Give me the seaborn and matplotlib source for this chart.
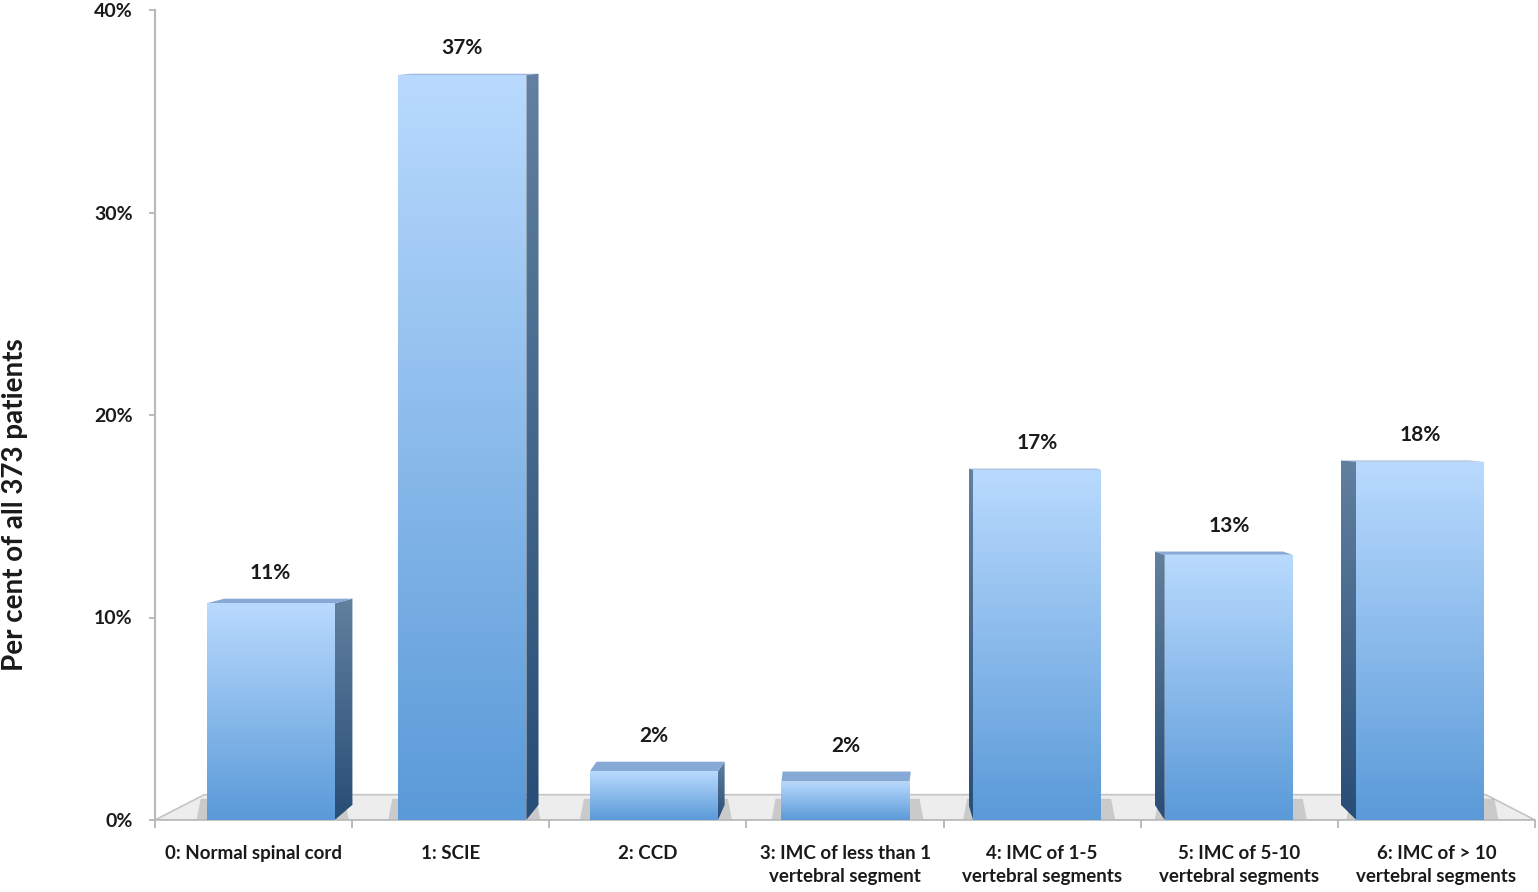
import numpy as np
import pandas as pd
import matplotlib
matplotlib.use("Agg")
import matplotlib.pyplot as plt
from matplotlib.patches import Polygon
from matplotlib.colors import LinearSegmentedColormap
import seaborn as sns

# ---- data ----
categories = [
    "0: Normal spinal cord",
    "1: SCIE",
    "2: CCD",
    "3: IMC of less than 1\nvertebral segment",
    "4: IMC of 1-5\nvertebral segments",
    "5: IMC of 5-10\nvertebral segments",
    "6: IMC of > 10\nvertebral segments",
]
values = [10.7, 36.8, 2.4, 1.9, 17.3, 13.1, 17.7]
value_labels = ["11%", "37%", "2%", "2%", "17%", "13%", "18%"]
y_ticks = [0, 10, 20, 30, 40]
y_tick_labels = ["0%", "10%", "20%", "30%", "40%"]
y_title = "Per cent of all 373 patients"

sns.set_theme(style="white")
plt.rcParams["font.family"] = ["Lato", "DejaVu Sans"]

fig = plt.figure(figsize=(15.38, 8.92), dpi=100)
ax = fig.add_axes([155 / 1538, 1 - 820 / 892, (1535 - 155) / 1538, (820 - 10) / 892])

df = pd.DataFrame({"cat": categories, "val": values})
sns.barplot(data=df, x="cat", y="val", color="#6fa8e6", width=0.65, ax=ax, zorder=3)

FRONT_TOP = "#b9dafe"
FRONT_BOT = "#5a9ad8"
SIDE_TOP = "#62809f"
SIDE_BOT = "#284d76"
TOP_FACE = "#86a9d6"


def grad_fill(verts, top_color, bottom_color, zorder):
    poly = Polygon(verts, closed=True, facecolor="none", edgecolor="none", zorder=zorder)
    ax.add_patch(poly)
    xs = [v[0] for v in verts]
    ys = [v[1] for v in verts]
    cmap = LinearSegmentedColormap.from_list("g", [bottom_color, top_color])
    grad = np.linspace(0, 1, 256).reshape(-1, 1)
    im = ax.imshow(grad, extent=[min(xs), max(xs), min(ys), max(ys)], origin="lower",
                   cmap=cmap, aspect="auto", zorder=zorder, interpolation="bicubic")
    im.set_clip_path(poly)


# floor
floor = Polygon([(-0.5, 0), (6.5, 0), (6.25, 1.25), (-0.25, 1.25)], closed=True,
                facecolor="#ededed", edgecolor="#c4c4c4", lw=1.2, zorder=1)
ax.add_patch(floor)

bar_patches = list(ax.patches)[:len(values)]
for i, p in enumerate(bar_patches):
    # perspective: bars lean slightly toward the centre of the view
    p.set_x(p.get_x() + 0.028 * (3.1 - i))
    x, w, h = p.get_x(), p.get_width(), p.get_height()
    p.set_facecolor("none")
    p.set_edgecolor("none")
    # shadow on floor
    sh = Polygon([(x - 0.05, 0.05), (x + w + 0.07, 0.05), (x + w + 0.05, 1.05), (x - 0.03, 1.05)],
                 closed=True, facecolor="#8a8a8a", edgecolor="none", alpha=0.35, zorder=1.5)
    ax.add_patch(sh)
    depth = 0.028 * (3.2 - i)
    dyt = max(0.05, 0.55 - 0.03 * h)
    dyb = 0.75
    # side face
    if abs(depth) > 0.01:
        xe = x + w if depth > 0 else x
        side = [(xe, 0), (xe + depth, dyb), (xe + depth, h + dyt), (xe, h)]
        grad_fill(side, SIDE_TOP, SIDE_BOT, 2.5)
    # top face
    top = [(x, h), (x + w, h), (x + w + depth, h + dyt), (x + depth, h + dyt)]
    ax.add_patch(Polygon(top, closed=True, facecolor=TOP_FACE, edgecolor="none", zorder=2.6))
    # front face
    grad_fill([(x, 0), (x + w, 0), (x + w, h), (x, h)], FRONT_TOP, FRONT_BOT, 3)
    ax.text(x + w / 2, h + dyt + 1.25, value_labels[i], ha="center", va="center",
            fontsize=15, fontweight="bold", color="#1a1a1a", zorder=5)

ax.set_xlim(-0.5, 6.5)
ax.set_ylim(0, 40)
ax.set_yticks(y_ticks)
ax.set_yticklabels(y_tick_labels, fontsize=14, fontweight="bold", color="#1a1a1a")
ax.set_xticks(range(len(categories)))
ax.set_xticklabels(categories, fontsize=13.5, fontweight="bold", color="#1a1a1a",
                   linespacing=1.45)
ax.set_xticks(np.arange(-0.5, 7, 1.0), minor=True)
ax.tick_params(axis="x", which="major", length=0, pad=18)
ax.tick_params(axis="x", which="minor", length=6, color="#b0b0b0", width=1.2, direction="out", bottom=True)
ax.tick_params(axis="y", which="major", length=4, color="#b0b0b0", width=1.2, direction="out", left=True, pad=12)
ax.set_xlabel("")
ax.set_ylabel("")
for s in ["top", "right"]:
    ax.spines[s].set_visible(False)
ax.spines["left"].set_color("#b8b8b8")
ax.spines["left"].set_linewidth(1.5)
ax.spines["bottom"].set_color("#b8b8b8")
ax.spines["bottom"].set_linewidth(1.2)
ax.grid(False)

fig.text(15 / 1538, 1 - 505 / 892, y_title, rotation=90, ha="center", va="center",
         fontsize=20, fontweight="bold", color="#1a1a1a")

fig.savefig("out.png", dpi=100, facecolor="white")
